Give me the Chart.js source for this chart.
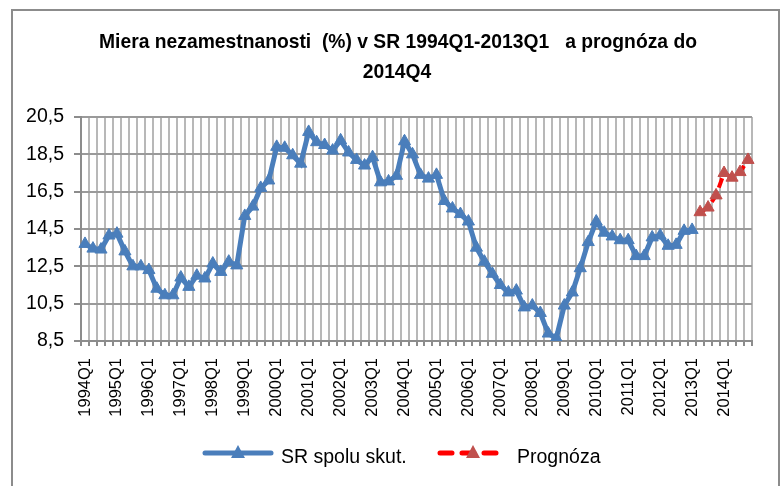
<!DOCTYPE html>
<html>
<head>
<meta charset="utf-8">
<script src="https://cdn.jsdelivr.net/npm/chart.js@4.4.0/dist/chart.umd.min.js"></script>
<style>
  html, body { margin: 0; padding: 0; background: #fff; }
  #wrap { width: 784px; height: 486px; }
</style>
</head>
<body>
<div id="wrap"><canvas id="unemp" width="784" height="486"></canvas></div>
<script>
// --- data ---
const years = [1994, 1995, 1996, 1997, 1998, 1999, 2000, 2001, 2002, 2003, 2004,
               2005, 2006, 2007, 2008, 2009, 2010, 2011, 2012, 2013, 2014];
const quarters = ['Q1', 'Q2', 'Q3', 'Q4'];

// SR spolu skut. : 1994Q1 .. 2013Q1
const actualValues = [
  13.7, 13.45, 13.4, 14.15,   14.25, 13.3, 12.5, 12.5,
  12.3, 11.3, 10.95, 10.95,   11.9, 11.4, 12.0, 11.85,
  12.65, 12.2, 12.75, 12.55,  15.2, 15.7, 16.7, 17.1,
  18.9, 18.85, 18.45, 18.0,   19.7, 19.15, 19.0, 18.7,
  19.25, 18.6, 18.2, 17.9,    18.35, 17.0, 17.05, 17.35,
  19.2, 18.5, 17.4, 17.2,     17.4, 16.0, 15.6, 15.3,
  14.9, 13.5, 12.75, 12.1,    11.5, 11.1, 11.2, 10.3,
  10.4, 10.0, 8.9, 8.65,      10.4, 11.1, 12.4, 13.8,
  14.9, 14.3, 14.1, 13.9,     13.9, 13.05, 13.05, 14.05,
  14.15, 13.6, 13.65, 14.4,   14.45
];
// Prognóza : 2013Q2 .. 2014Q4
const forecastValues = [15.4, 15.65, 16.3, 17.5, 17.25, 17.55, 18.2];

const yTicks = [8.5, 10.5, 12.5, 14.5, 16.5, 18.5, 20.5];

const titleLines = ['Miera nezamestnanosti  (%) v SR 1994Q1-2013Q1   a prognóza do', '2014Q4'];
const seriesNames = ['SR spolu skut.', 'Prognóza'];

// --- colours / fonts ---
const BLUE = '#4A7EBB';
const RED_LINE = '#FF0000';
const RED_MARK = '#C0504D';
const FONT = "'Liberation Sans', Arial, sans-serif";

// labels 1994Q1 .. 2014Q4
const labels = [];
years.forEach(y => quarters.forEach(q => labels.push(y + q)));

const actualData = labels.map((_, i) => i < actualValues.length ? actualValues[i] : null);
const forecastData = labels.map((_, i) => {
  const k = i - actualValues.length;
  return k >= 0 && k < forecastValues.length ? forecastValues[k] : null;
});

// outer frame, title and legend drawn by hand (Excel look)
const framePlugin = {
  id: 'frame',
  beforeDraw(chart) {
    const ctx = chart.ctx;
    ctx.save();
    ctx.fillStyle = '#fff';
    ctx.fillRect(0, 0, chart.width, chart.height);
    ctx.strokeStyle = '#8c8c8c';
    ctx.lineWidth = 2;
    ctx.strokeRect(12, 10, 767, 500);
    ctx.restore();
  },
  afterDraw(chart) {
    const ctx = chart.ctx;
    ctx.save();
    // title
    ctx.fillStyle = '#000';
    ctx.font = 'bold 19.3px ' + FONT;
    ctx.textAlign = 'center';
    ctx.textBaseline = 'middle';
    ctx.fillText(titleLines[0], 398, 42.5);
    ctx.fillText(titleLines[1], 397, 72.5);

    // legend
    const y = 453;
    function tri(x, color) {
      ctx.beginPath();
      ctx.moveTo(x, y - 8);
      ctx.lineTo(x + 7, y + 5);
      ctx.lineTo(x - 7, y + 5);
      ctx.closePath();
      ctx.fillStyle = color;
      ctx.fill();
    }
    ctx.lineCap = 'round';
    ctx.strokeStyle = BLUE;
    ctx.lineWidth = 5;
    ctx.beginPath(); ctx.moveTo(205, y); ctx.lineTo(271, y); ctx.stroke();
    tri(238, BLUE);
    ctx.strokeStyle = RED_LINE;
    ctx.setLineDash([12, 10]);
    ctx.beginPath(); ctx.moveTo(440, y); ctx.lineTo(502, y); ctx.stroke();
    ctx.setLineDash([]);
    tri(473, RED_MARK);
    ctx.fillStyle = '#000';
    ctx.font = '19.5px ' + FONT;
    ctx.textAlign = 'left';
    ctx.textBaseline = 'alphabetic';
    ctx.fillText(seriesNames[0], 281, 463);
    ctx.fillText(seriesNames[1], 517, 463);
    ctx.restore();
  }
};

new Chart(document.getElementById('unemp'), {
  type: 'line',
  data: {
    labels: labels,
    datasets: [
      {
        label: seriesNames[0],
        data: actualData,
        borderColor: BLUE,
        backgroundColor: BLUE,
        borderWidth: 5,
        pointStyle: 'triangle',
        pointRadius: 7,
        pointBorderWidth: 1,
        tension: 0,
        spanGaps: false
      },
      {
        label: seriesNames[1],
        data: forecastData,
        borderColor: RED_LINE,
        backgroundColor: RED_MARK,
        pointBorderColor: RED_MARK,
        borderWidth: 4,
        borderDash: [10, 6],
        pointStyle: 'triangle',
        pointRadius: 7,
        pointBorderWidth: 1,
        tension: 0,
        spanGaps: false
      }
    ]
  },
  options: {
    responsive: false,
    animation: false,
    layout: { padding: { left: 0, right: 32, top: 117, bottom: 0 } },
    plugins: {
      legend: { display: false },
      tooltip: { enabled: false },
      title: { display: false }
    },
    scales: {
      x: {
        offset: true,
        afterFit(scale) { scale.height = 145; },
        grid: {
          offset: true,
          color: '#b8b8b8',
          lineWidth: 2,
          tickLength: 5,
          tickColor: '#8c8c8c'
        },
        border: { color: '#8c8c8c', width: 2 },
        ticks: {
          autoSkip: false,
          maxRotation: 90,
          minRotation: 90,
          padding: 12,
          color: '#000',
          font: { family: FONT, size: 16.5 },
          callback(value, index) { return index % 4 === 0 ? labels[index] : ''; }
        }
      },
      y: {
        min: yTicks[0],
        max: yTicks[yTicks.length - 1],
        afterFit(scale) { scale.width = 81; },
        afterBuildTicks(scale) { scale.ticks = yTicks.map(v => ({ value: v })); },
        grid: {
          color: '#9a9a9a',
          lineWidth: 2,
          tickLength: 7,
          tickColor: '#8c8c8c'
        },
        border: { color: '#8c8c8c', width: 2 },
        ticks: {
          padding: 10,
          color: '#000',
          font: { family: FONT, size: 19.5 },
          callback(value) { return value.toFixed(1).replace('.', ','); }
        }
      }
    }
  },
  plugins: [framePlugin]
});
</script>
</body>
</html>
